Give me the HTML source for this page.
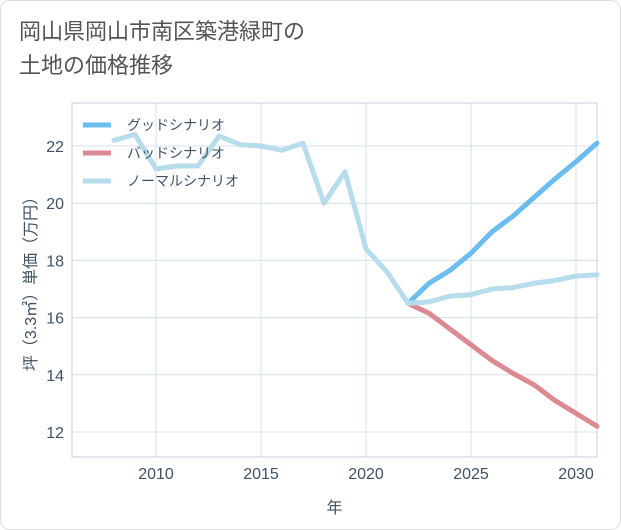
<!DOCTYPE html>
<html><head><meta charset="utf-8"><style>
body{margin:0;background:#fff;font-family:"Liberation Sans","Noto Sans CJK JP",sans-serif;}
#wrap{position:relative;width:619px;height:528px;border:1px solid #ddd;border-radius:10px;overflow:hidden;background:#fff}
#title{position:absolute;left:18px;top:14px;font-size:22px;line-height:34px;color:#555;}
</style></head><body>
<div id="wrap">
<div id="title">岡山県岡山市南区築港緑町の<br>土地の価格推移</div>
<svg id="chart" width="621" height="530" style="position:absolute;left:-1px;top:-1px"></svg>
</div>
<script>
const years=[2008,2009,2010,2011,2012,2013,2014,2015,2016,2017,2018,2019,2020,2021,2022,2023,2024,2025,2026,2027,2028,2029,2030,2031];
const normal=[22.2,22.4,21.2,21.3,21.3,22.35,22.05,22.0,21.85,22.1,20.0,21.1,18.4,17.6,16.5,16.55,16.75,16.8,17.0,17.05,17.2,17.3,17.45,17.5];
const fyears=[2022,2023,2024,2025,2026,2027,2028,2029,2030,2031];
const good=[16.5,17.2,17.65,18.25,19.0,19.55,20.2,20.85,21.45,22.1];
const bad=[16.5,16.15,15.6,15.05,14.5,14.05,13.65,13.1,12.65,12.2];
const xticks=[2010,2015,2020,2025,2030];
const yticks=[12,14,16,18,20,22];
const L=72,R=597,T=103,B=457;
const TC='#3f5266';
const x=v=>L+(v-2006)/(2031-2006)*(R-L);
const y=v=>432+(v-12)*(146-432)/10;
const s=document.getElementById('chart'),NS='http://www.w3.org/2000/svg';
function el(t,a,txt){const e=document.createElementNS(NS,t);for(const k in a)e.setAttribute(k,a[k]);if(txt!=null)e.textContent=txt;s.appendChild(e);return e;}
xticks.forEach(v=>{const g=el('line',{x1:x(v),x2:x(v),y1:T,y2:B,stroke:'#d5e0ea','stroke-width':1});

const t=el('text',{x:x(v),y:B+22,'text-anchor':'middle','font-size':16,fill:TC},v);
});
yticks.forEach(v=>{const g=el('line',{x1:L,x2:R,y1:y(v),y2:y(v),stroke:'#d5e0ea','stroke-width':1});

const t=el('text',{x:L-8,y:y(v)+6,'text-anchor':'end','font-size':16,fill:TC},v);
});
const fr=el('path',{d:`M${L},${T}V${B}H${R}`,fill:'none',stroke:'#8a97a6','stroke-width':1});

el('rect',{x:L,y:T,width:R-L,height:B-T,fill:'none',stroke:'#c5d0da','stroke-width':1});
function line(xs,ys,c,n){const p=el('polyline',{points:xs.map((v,i)=>x(v)+','+y(ys[i])).join(' '),fill:'none',stroke:c,'stroke-width':5,'stroke-linejoin':'round','stroke-linecap':'round'});
}
line(fyears,good,'#6bbcf0','good-scenario-line');
line(fyears,bad,'#dc8a92','bad-scenario-line');
line(years,normal,'#b7dceb','normal-scenario-line');
const leg=[['グッドシナリオ','#6bbcf0'],['バッドシナリオ','#dc8a92'],['ノーマルシナリオ','#b7dceb']];
leg.forEach((d,i)=>{const yy=125+i*28;
const l=el('line',{x1:83,x2:111,y1:yy,y2:yy,stroke:d[1],'stroke-width':5});

const t=el('text',{x:127,y:yy+5,'font-size':14,fill:TC},d[0]);
});
const xt=el('text',{x:(L+R)/2,y:513,'text-anchor':'middle','font-size':16,fill:TC},'年');

const yt=el('text',{x:0,y:0,transform:`translate(36,${(T+B)/2}) rotate(-90)`,'text-anchor':'middle','font-size':16,fill:TC},'坪（3.3㎡）単価（万円）');

</script>
</body></html>
